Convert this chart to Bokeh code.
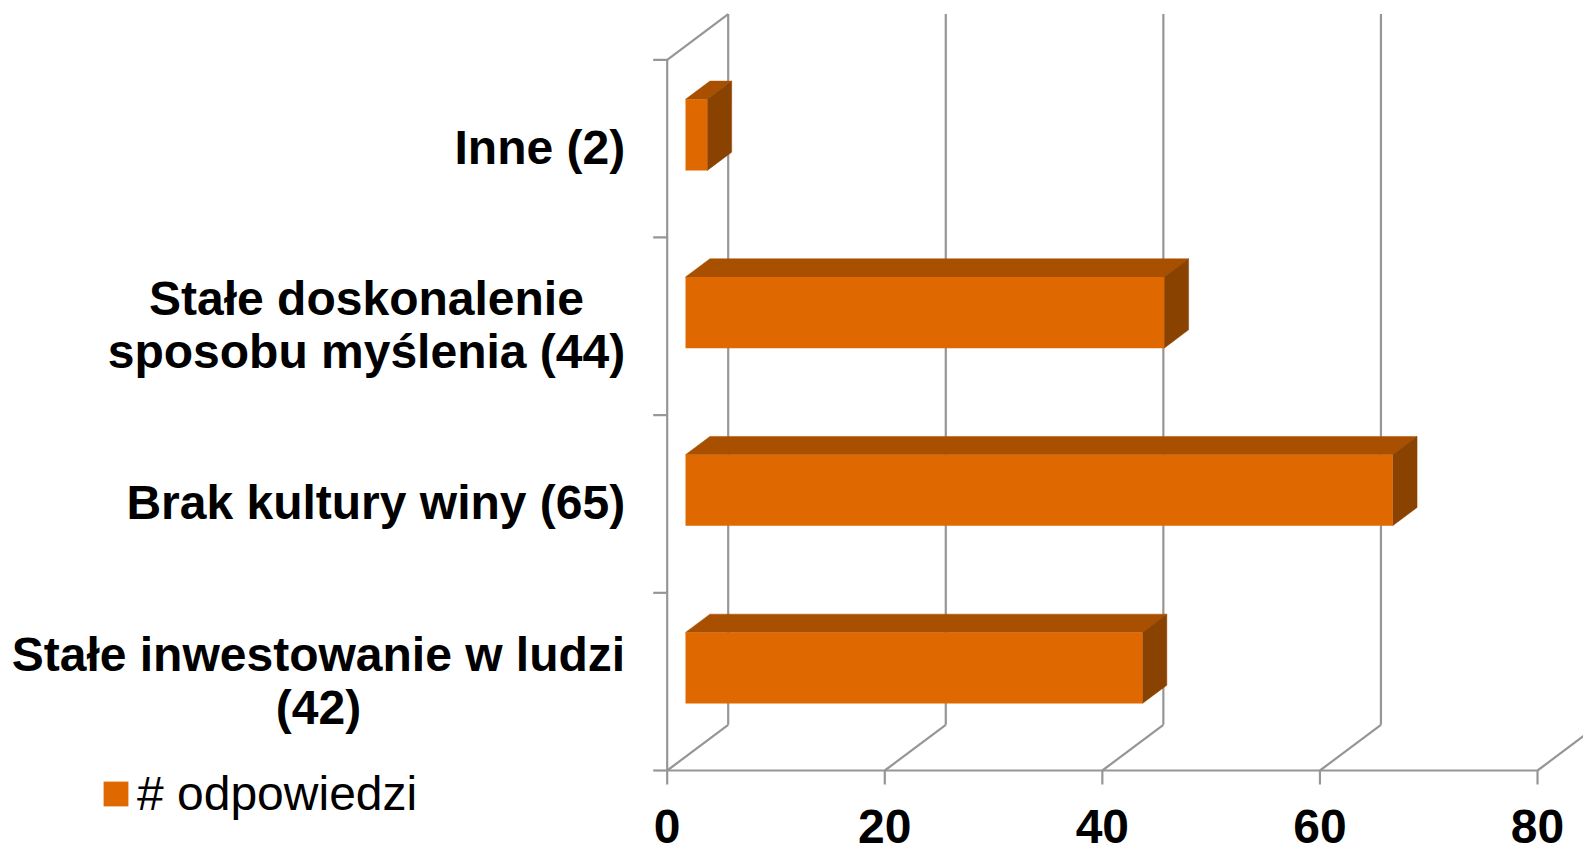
from bokeh.plotting import figure
from bokeh.models import Range1d, ColumnDataSource, Legend, LegendItem
from bokeh.embed import file_html
from bokeh.resources import INLINE
from bokeh.core.properties import value

# ---------------- data ----------------
categories = [
    "Stałe inwestowanie w ludzi\n(42)",
    "Brak kultury winy (65)",
    "Stałe doskonalenie\nsposobu myślenia (44)",
    "Inne (2)",
]
counts = [42, 65, 44, 2]
x_ticks = [0, 20, 40, 60, 80]
x_tick_labels = ["0", "20", "40", "60", "80"]
series_name = "# odpowiedzi"

# ---------------- layout (pixels) ----------------
W, H = 1583, 847
X0_PX = 666.7          # px of value 0 (front plane)
Y0_PX = 770.0          # px (from top) of the front floor edge
PX_PER_UNIT = 10.879   # px per value unit
BAND_PX = 177.68       # px per category band
DEPTH_DX_PX, DEPTH_DY_PX = 61.0, 45.7
BAR_W = 0.4
BAR_D0, BAR_D1 = 0.30, 0.70
TICK_PX = 14.0
LABEL_GAP_PX = 42.0
LABEL_FS = 48
LINE_PX = 53.0
BASELINE_OFF_PX = 17.0
XLABEL_BASE_PX = 74.0
TEXT_FIX_PX = 18.0

GRID = "#969696"
FRONT = "#df6900"
TOP = "#a85000"
SIDE = "#8a4200"
FONT = "Liberation Sans"

def ux(px):
    return px / PX_PER_UNIT

def uy(px):
    return px / BAND_PX

DX, DY = ux(DEPTH_DX_PX), uy(DEPTH_DY_PX)
n = len(categories)
xmax = x_ticks[-1]

p = figure(width=W, height=H,
           x_range=Range1d(-ux(X0_PX), ux(W - X0_PX)),
           y_range=Range1d(-uy(H - Y0_PX), uy(Y0_PX)),
           output_backend="svg", toolbar_location=None,
           x_axis_type=None, y_axis_type=None, min_border=0)
p.title.visible = False
p.outline_line_color = None
p.background_fill_color = "white"
p.border_fill_color = "white"

LW = 2.2
# ---------------- walls / gridlines ----------------
p.segment(x0=[t + DX for t in x_ticks], y0=[DY] * len(x_ticks),
          x1=[t + DX for t in x_ticks], y1=[n + DY] * len(x_ticks),
          line_color=GRID, line_width=LW)
p.segment(x0=x_ticks, y0=[0] * len(x_ticks),
          x1=[t + DX for t in x_ticks], y1=[DY] * len(x_ticks),
          line_color=GRID, line_width=LW)
p.segment(x0=[0], y0=[n], x1=[DX], y1=[n + DY], line_color=GRID, line_width=LW)
p.segment(x0=[0, 0], y0=[0, 0], x1=[xmax, 0], y1=[0, n], line_color=GRID, line_width=LW)
p.segment(x0=x_ticks, y0=[0] * len(x_ticks), x1=x_ticks, y1=[-uy(TICK_PX)] * len(x_ticks),
          line_color=GRID, line_width=LW)
p.segment(x0=[0] * (n + 1), y0=list(range(n + 1)), x1=[-ux(TICK_PX)] * (n + 1),
          y1=list(range(n + 1)), line_color=GRID, line_width=LW)

# ---------------- 3D bars ----------------
fx, fy = BAR_D0 * DX, BAR_D0 * DY
bx, by = BAR_D1 * DX, BAR_D1 * DY
centers = [i + 0.5 for i in range(n)]
front_src = ColumnDataSource(dict(
    left=[fx] * n, right=[v + fx for v in counts],
    bottom=[c - BAR_W / 2 + fy for c in centers],
    top=[c + BAR_W / 2 + fy for c in centers]))
top_xs, top_ys, side_xs, side_ys = [], [], [], []
for v, c in zip(counts, centers):
    t, b = c + BAR_W / 2, c - BAR_W / 2
    top_xs.append([fx, v + fx, v + bx, bx])
    top_ys.append([t + fy, t + fy, t + by, t + by])
    side_xs.append([v + fx, v + bx, v + bx, v + fx])
    side_ys.append([b + fy, b + by, t + by, t + fy])
p.patches(xs=top_xs, ys=top_ys, fill_color=TOP, line_color=TOP, line_width=0.5)
p.patches(xs=side_xs, ys=side_ys, fill_color=SIDE, line_color=SIDE, line_width=0.5)
front = p.quad(left="left", right="right", bottom="bottom", top="top", source=front_src,
               fill_color=FRONT, line_color=None)

# ---------------- category labels ----------------
AW = {' ': 278, '(': 333, ')': 333, '2': 556, '4': 556, '5': 556, '6': 556,
      'B': 722, 'I': 278, 'S': 667, 'a': 556, 'b': 611, 'd': 611, 'e': 556,
      'i': 278, 'k': 556, 'l': 278, 'ł': 278, 'm': 889, 'n': 611, 'o': 611,
      'p': 611, 'r': 389, 's': 556, 'ś': 556, 't': 333, 'u': 611, 'w': 778,
      'y': 556, 'z': 500}

def text_w(s):
    return sum(AW.get(ch, 556) for ch in s) / 1000.0 * LABEL_FS

lx, ly, lt = [], [], []
for lab, c in zip(categories, centers):
    lines = lab.split("\n")
    bw = max(text_w(s) for s in lines)
    cx = -ux(LABEL_GAP_PX + bw / 2)
    k = len(lines)
    for j, s in enumerate(lines):
        off = BASELINE_OFF_PX + (j - (k - 1) / 2) * LINE_PX - TEXT_FIX_PX
        lx.append(cx)
        ly.append(c - uy(off))
        lt.append(s)
p.text(x=lx, y=ly, text=lt, text_align="center", text_baseline="alphabetic",
       text_font=value(FONT), text_font_style="bold", text_font_size=f"{LABEL_FS}px",
       text_color="black")

# ---------------- x tick labels ----------------
p.text(x=x_ticks, y=[-uy(XLABEL_BASE_PX - TEXT_FIX_PX)] * len(x_ticks), text=x_tick_labels,
       text_align="center", text_baseline="alphabetic",
       text_font=value(FONT), text_font_style="bold", text_font_size=f"{LABEL_FS}px",
       text_color="black")

# ---------------- legend ----------------
legend = Legend(items=[LegendItem(label=series_name, renderers=[front])],
                location=(100, 26), glyph_width=31, glyph_height=31,
                label_text_font=FONT, label_text_font_size="48px",
                label_text_color="black",
                label_standoff=6, padding=0, margin=0, spacing=0,
                border_line_color=None, background_fill_alpha=0)
p.add_layout(legend)

open("out.html", "w").write(file_html(p, INLINE))
